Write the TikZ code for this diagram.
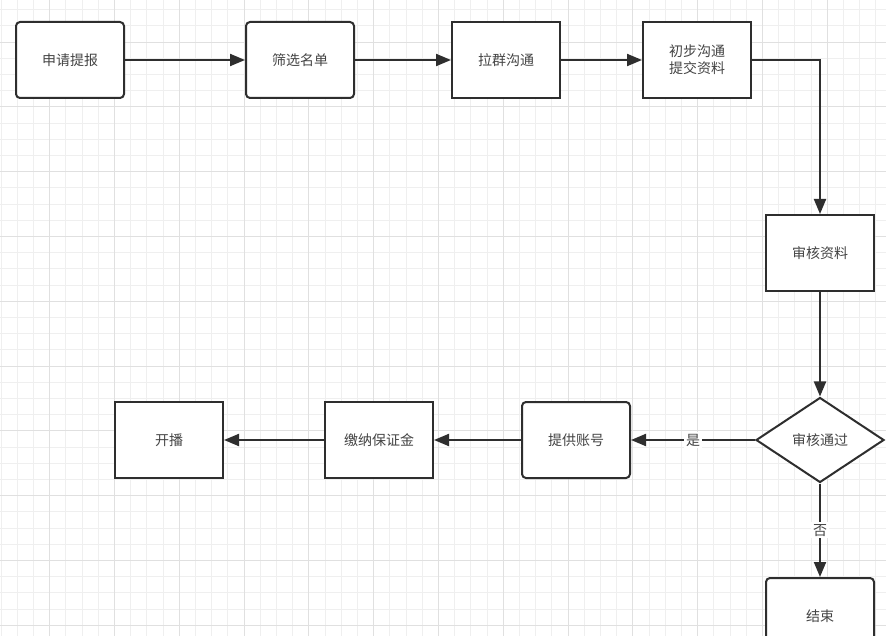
\documentclass[tikz,border=0pt]{standalone}
\usepackage{fontspec}
\newfontfamily\cjk{Noto Sans CJK SC}
\usetikzlibrary{arrows.meta,shapes.geometric}
\definecolor{linec}{HTML}{2E2E2E}
\definecolor{textc}{HTML}{444444}
\definecolor{minorc}{HTML}{EFEFEF}
\definecolor{majorc}{HTML}{E0E0E0}
\tikzset{
  minorgrid/.style={draw=minorc,line width=0.9pt},
  majorgrid/.style={draw=majorc,line width=1pt},
  stepbox/.style={draw=linec,line width=2pt,fill=white,minimum width=108pt,minimum height=76pt,inner sep=0pt,font=\cjk\fontsize{14pt}{17.3pt}\selectfont,text=textc,align=center},
  roundbox/.style={stepbox,rounded corners=4pt},
  decide/.style={diamond,draw=linec,line width=2pt,fill=white,minimum width=128pt,minimum height=85pt,inner sep=0pt,font=\cjk\fontsize{14pt}{17pt}\selectfont,text=textc},
  arr/.style={draw=linec,line width=2pt,-{Triangle[length=15pt,width=12pt]}},
  lbl/.style={fill=white,inner sep=2pt,font=\cjk\fontsize{14pt}{17pt}\selectfont,text=textc}
}
\begin{document}
\begin{tikzpicture}[x=1pt,y=-1pt]
\clip (0,0) rectangle (886,636);
\fill[white] (0,0) rectangle (886,636);
\foreach \i in {0,...,55} {\draw[minorgrid] ({1.1+16.2*\i},0) -- ({1.1+16.2*\i},636);}
\foreach \i in {0,...,39} {\draw[minorgrid] (0,{9.7+16.2*\i}) -- (886,{9.7+16.2*\i});}
\foreach \i in {0,...,13} {\draw[majorgrid] ({49.7+64.8*\i},0) -- ({49.7+64.8*\i},636);}
\foreach \i in {0,...,9} {\draw[majorgrid] (0,{42.1+64.8*\i}) -- (886,{42.1+64.8*\i});}

\node[roundbox] (a) at (70,60) {申请提报};
\node[roundbox] (b) at (300,60) {筛选名单};
\node[stepbox] (c) at (506,60) {拉群沟通};
\node[stepbox] (d) at (697,60) {初步沟通\\提交资料};
\node[stepbox] (e) at (820,253) {审核资料};
\node[decide] (f) at (820,440) {审核通过};
\node[roundbox] (g) at (576,440) {提供账号};
\node[stepbox] (h) at (379,440) {缴纳保证金};
\node[stepbox] (i) at (169,440) {开播};
\node[roundbox] (j) at (820,616) {结束};

\draw[arr] (a) -- (b);
\draw[arr] (b) -- (c);
\draw[arr] (c) -- (d);
\draw[arr] (d.east) -| (e.north);
\draw[arr] (e) -- (f);
\draw[arr] (f.west) -- node[lbl] {是} (g.east);
\draw[arr] (g) -- (h);
\draw[arr] (h) -- (i);
\draw[arr] (f.south) -- node[lbl] {否} (j.north);
\end{tikzpicture}
\end{document}
